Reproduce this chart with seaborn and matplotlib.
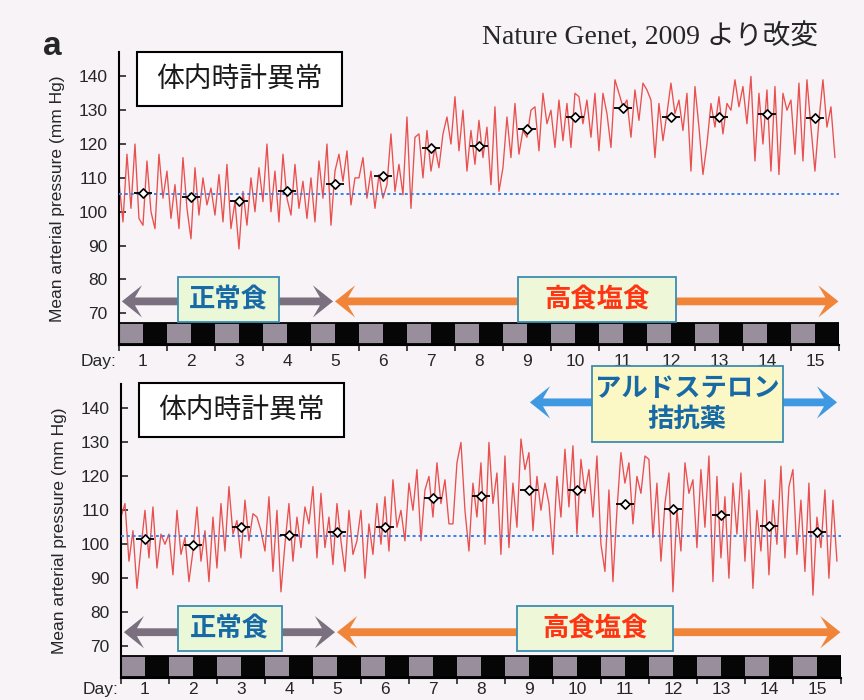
import matplotlib
matplotlib.use("Agg")
import matplotlib.pyplot as plt
import numpy as np
import pandas as pd
import seaborn as sns
from matplotlib.patches import Rectangle

# mean arterial pressure (mm Hg), one reading every 2 h, day 0.5 -> 15.5
top_bp = [
    109, 97, 117, 101, 120, 98, 96, 115, 100, 95, 117, 104,
    112, 98, 108, 95, 116, 101, 92, 113, 99, 110, 102, 107,
    99, 111, 97, 114, 95, 103, 89, 106, 96, 110, 100, 113,
    103, 120, 100, 112, 97, 117, 104, 99, 114, 101, 109, 98,
    110, 97, 115, 104, 120, 96, 112, 117, 109, 118, 102, 110,
    110, 116, 104, 112, 101, 111, 104, 108, 123, 106, 114, 105,
    128, 101, 122, 123, 110, 124, 112, 119, 113, 123, 128, 120,
    134, 118, 130, 112, 124, 114, 127, 116, 125, 108, 131, 106,
    113, 128, 116, 132, 117, 124, 122, 130, 131, 118, 135, 126,
    130, 119, 133, 121, 132, 119, 135, 134, 126, 133, 122, 135,
    118, 135, 129, 119, 139, 135, 131, 133, 122, 136, 127, 138,
    136, 133, 116, 132, 121, 129, 138, 129, 133, 124, 135, 112,
    137, 125, 111, 120, 132, 125, 134, 123, 132, 130, 139, 131,
    137, 126, 140, 115, 135, 120, 136, 112, 137, 111, 135, 130,
    133, 117, 138, 115, 139, 125, 112, 127, 139, 125, 131, 116,
]
top_means = [105.5, 104.3, 103.3, 106.0, 108.3, 110.7, 118.7, 119.5,
             124.3, 128.0, 130.6, 128.0, 128.0, 128.8, 127.6]
top_baseline = 105.2

bottom_bp = [
    108, 112, 95, 104, 87, 99, 110, 96, 111, 93, 103, 100,
    103, 91, 110, 97, 102, 89, 98, 111, 95, 104, 89, 108,
    93, 112, 98, 117, 103, 107, 96, 113, 101, 109, 108, 104,
    98, 114, 92, 110, 86, 100, 112, 95, 108, 99, 111, 106,
    117, 96, 115, 99, 108, 94, 112, 101, 92, 110, 97, 101,
    110, 90, 106, 97, 112, 100, 114, 98, 119, 105, 110, 101,
    118, 110, 122, 101, 116, 120, 108, 124, 112, 119, 106, 106,
    124, 130, 110, 98, 118, 108, 124, 100, 130, 112, 121, 97,
    126, 99, 118, 105, 131, 122, 127, 104, 120, 110, 118, 112,
    97, 120, 108, 128, 111, 129, 103, 125, 115, 122, 108, 126,
    100, 92, 116, 89, 110, 127, 118, 124, 106, 120, 115, 126,
    125, 102, 118, 95, 112, 121, 86, 110, 98, 124, 115, 119,
    99, 122, 105, 126, 89, 120, 96, 114, 90, 118, 103, 121,
    95, 116, 87, 110, 98, 119, 91, 113, 100, 123, 96, 117,
    122, 97, 113, 92, 118, 85, 108, 99, 116, 90, 113, 95,
]
bottom_means = [101.6, 99.8, 105.1, 102.7, 103.5, 105.2, 113.5, 114.3,
                116.0, 116.0, 111.9, 110.4, 108.6, 105.4, 103.5]
bottom_baseline = 102.4

days = list(range(1, 16))
READINGS_PER_DAY = 12

BG = "#f7f3f6"
RED = "#e8504f"
BLUE_DOT = "#3a80e8"
GRAY_ARROW = "#7b7080"
ORANGE = "#f0853a"
BLUE_ARROW = "#3f98e2"
BOX_EDGE = "#3b8db3"
CJK = ["Noto Sans CJK JP", "DejaVu Sans"]

sns.set_style("ticks")
plt.rcParams["font.family"] = ["Liberation Sans", "Noto Sans CJK JP"]


def double_arrow(ax, x0, x1, y, color):
    mid = (x0 + x1) / 2
    for end in (x0, x1):
        ax.arrow(mid, y, end - mid, 0, width=2.3, head_width=9.5,
                 head_length=0.42, overhang=0.35, length_includes_head=True,
                 color=color, lw=0, zorder=3, clip_on=False)


def label_box(ax, x0, x1, y0, y1, text, fc, tc):
    ax.add_patch(Rectangle((x0, y0), x1 - x0, y1 - y0, fc=fc, ec=BOX_EDGE,
                           lw=1.3, zorder=4, clip_on=False))
    ax.text((x0 + x1) / 2, (y0 + y1) / 2, text, ha="center", va="center",
            color=tc, fontsize=19, fontweight="bold", family=CJK, zorder=5,
            linespacing=1.15)


def draw_panel(ax, bp, means, baseline, day_pad):
    ax.set_facecolor(BG)
    t = 0.5 + np.arange(len(bp)) / READINGS_PER_DAY
    df = pd.DataFrame({"day": t, "bp": bp})
    sns.lineplot(data=df, x="day", y="bp", ax=ax, color=RED, lw=0.95, zorder=2)
    ax.axhline(baseline, color=BLUE_DOT, lw=1.4, ls=(0, (1.5, 1.5)), zorder=3)
    ax.errorbar(days, means, xerr=0.18, fmt="none", ecolor="black",
                elinewidth=1.3, capsize=0, zorder=4)
    sns.scatterplot(x=days, y=means, ax=ax, marker="D", s=22, color="white",
                    edgecolor="black", linewidth=1.2, zorder=5)

    # light / dark bar
    d = np.array(days)
    ax.bar(d - 0.5, 6.2, bottom=61.0, width=0.5, align="edge",
           color="#998f9c", lw=0, zorder=2)
    ax.bar(d, 6.2, bottom=61.0, width=0.5, align="edge",
           color="#060606", lw=0, zorder=2)
    ax.add_patch(Rectangle((0.5, 61.0), 15, 6.2, fill=False, ec="black",
                           lw=1.3, zorder=3))

    ax.set_xlim(0.5, 15.5)
    ax.set_ylim(60.6, 147.2)
    ax.set_yticks(range(70, 150, 10))
    ax.set_xticks(days)
    ax.set_xticks(np.arange(0.5, 15.6, 1), minor=True)
    ax.tick_params(axis="x", which="major", length=0, pad=day_pad,
                   labelsize=12.5)
    ax.tick_params(axis="x", which="minor", length=4, width=1.2,
                   direction="out")
    ax.tick_params(axis="y", direction="in", length=5, width=1.2, pad=8,
                   labelsize=12.5)
    sns.despine(ax=ax)
    for side in ("left", "bottom"):
        ax.spines[side].set_linewidth(1.5)
        ax.spines[side].set_color("black")
    ax.set_xlabel("")
    ax.set_ylabel("Mean arterial pressure (mm Hg)", fontsize=12.5, labelpad=10)
    ax.annotate("Day:", xy=(0, 0), xycoords="axes fraction",
                xytext=(-2, -day_pad), textcoords="offset points",
                ha="right", va="top", fontsize=12.5)


fig = plt.figure(figsize=(8.64, 7.0), dpi=100)
fig.patch.set_facecolor(BG)
ax1 = fig.add_axes([0.1377, 0.5071, 0.8333, 0.4186])
ax2 = fig.add_axes([0.1400, 0.0314, 0.8333, 0.4200])

draw_panel(ax1, top_bp, top_means, top_baseline, 6.5)
draw_panel(ax2, bottom_bp, bottom_means, bottom_baseline, 3.0)

# diet arrows
double_arrow(ax1, 0.56, 4.96, 73.5, GRAY_ARROW)
double_arrow(ax1, 5.0, 15.49, 73.5, ORANGE)
label_box(ax1, 1.73, 3.83, 67.4, 80.6, "正常食", "#eaf8d8", "#176aa6")
label_box(ax1, 8.81, 12.1, 67.4, 80.6, "高食塩食", "#eef8d8", "#ff3412")

double_arrow(ax2, 0.56, 4.96, 74.1, GRAY_ARROW)
double_arrow(ax2, 5.0, 15.49, 74.1, ORANGE)
label_box(ax2, 1.69, 3.85, 68.5, 81.8, "正常食", "#eaf8d8", "#176aa6")
label_box(ax2, 8.75, 12.0, 68.5, 81.8, "高食塩食", "#eef8d8", "#ff3412")

double_arrow(ax2, 9.02, 15.42, 141.8, BLUE_ARROW)
label_box(ax2, 10.31, 14.29, 130.0, 152.6, "アルドステロン\n拮抗薬", "#fcf8c6",
          "#176aa6")

# panel title boxes
for ax, (y0, y1) in ((ax1, (0.816, 1.0)), (ax2, (0.82, 1.003))):
    ax.add_patch(Rectangle((0.025, y0), 0.285, y1 - y0, transform=ax.transAxes,
                           fc="white", ec="black", lw=1.5, zorder=6,
                           clip_on=False))
    ax.text(0.1675, (y0 + y1) / 2, "体内時計異常", transform=ax.transAxes,
            ha="center", va="center", fontsize=20, family=CJK,
            color="#1a1a1a", zorder=7)

fig.text(0.060, 0.933, "a", fontsize=24, fontweight="bold", ha="center",
         va="center")
fig.text(0.947, 0.937, "Nature Genet, 2009 より改変", ha="right",
         va="baseline", fontsize=20,
         family=["Liberation Serif", "Noto Sans CJK JP"])

fig.savefig("out.png", dpi=100, facecolor=BG)
